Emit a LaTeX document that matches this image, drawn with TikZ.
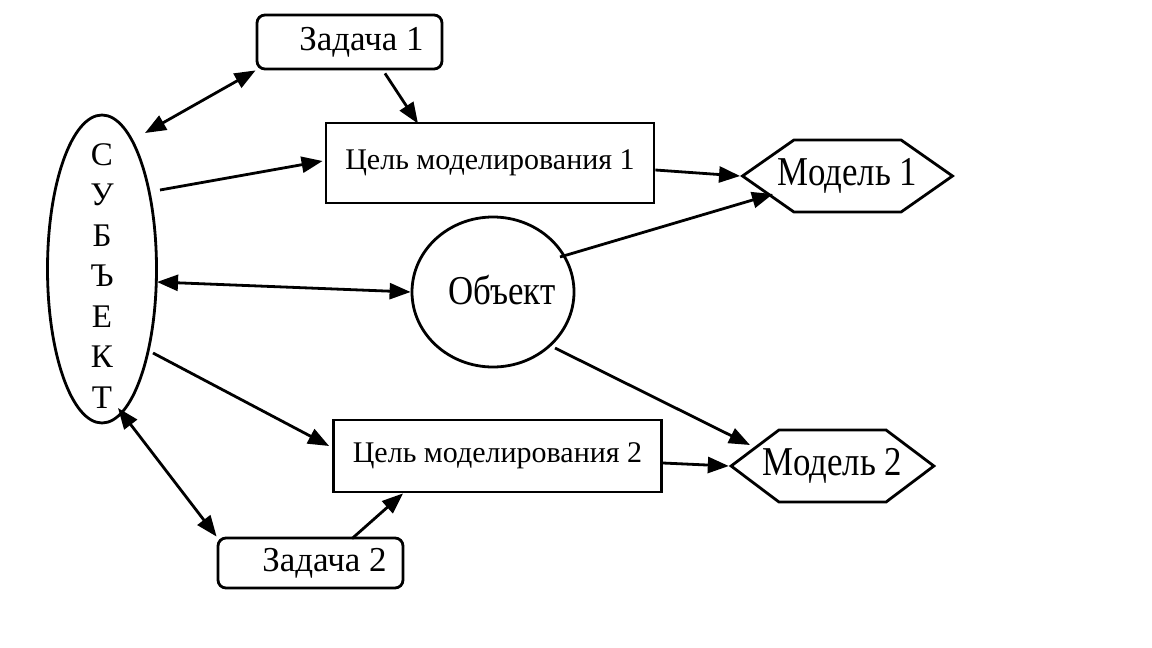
\documentclass[tikz,border=0pt]{standalone}
\usepackage{fontspec}
\setmainfont{Liberation Serif}
\newfontfamily\condserif[FakeStretch=0.85]{Liberation Serif}
\usetikzlibrary{arrows.meta,shapes.geometric,shapes.symbols,calc}
\tikzset{
  ln/.style={line width=2.8pt},
  arr/.style={ln,-{Triangle[length=21pt,width=16pt]}},
  darr/.style={ln,{Triangle[length=21pt,width=16pt]}-{Triangle[length=21pt,width=16pt]}},
  taskbox/.style={draw,ln,rounded corners=8pt,minimum width=185pt,inner sep=0pt,font=\fontsize{35}{42}\selectfont},
  goalbox/.style={draw,ln,minimum width=328pt,inner sep=0pt,font=\fontsize{30}{36}\selectfont},
  modelbox/.style={draw,ln,signal,signal to=west and east,minimum height=72pt,minimum width=10pt,inner xsep=-16pt,inner ysep=0pt,font=\condserif\fontsize{41}{48}\selectfont},
}
\begin{document}
\begin{tikzpicture}[x=1pt,y=-1pt]
\useasboundingbox (0,0) rectangle (1152,648);
\fill[white] (0,0) rectangle (1152,648);
% nodes
\node[draw,ln,ellipse,minimum width=109pt,minimum height=308pt,inner sep=0pt] (subj) at (102,269) {};
\node[align=center,font=\fontsize{33}{40.5}\selectfont,inner sep=0pt] (subjtxt) at (102,276) {С\\У\\Б\\Ъ\\Е\\К\\Т};
\node[taskbox,minimum height=54pt] (z1) at (349.5,42) {\hspace*{24pt}Задача 1};
\node[taskbox,minimum height=50pt] (z2) at (310.5,563) {\hspace*{28pt}Задача 2};
\node[goalbox,minimum height=80pt] (c1) at (490,163) {Цель моделирования 1};
\node[goalbox,minimum height=72pt] (c2) at (497.5,456) {Цель моделирования 2};
\node[draw,ln,ellipse,minimum width=162pt,minimum height=150pt,inner sep=0pt] (obj) at (493,292) {};
\node[font=\condserif\fontsize{41}{48}\selectfont,inner sep=0pt] (objtxt) at (502,290) {Объект};
\node[modelbox,signal pointer angle=70] (m1) at (847.5,176) {Модель 1};
\node[modelbox,signal pointer angle=74] (m2) at (832.5,466) {Модель 2};
% connectors
\draw[darr] ($(subj.center)+(43,-136)$) -- (z1.south west);
\draw[arr] ($(z1.south)+(35.5,3)$) -- ($(c1.north)+(-72,2)$);
\draw[arr] ($(subj.center)+(58,-79)$) -- ($(c1.west)+(-2,-2)$);
\draw[darr] ($(subj.center)+(55,13)$) -- (obj.west);
\draw[arr] ($(subj.center)+(51,84)$) -- ($(c2.west)+(-3,-10)$);
\draw[darr] ($(subj.center)+(16,139)$) -- (z2.north west);
\draw[arr] ($(z2.north)+(41.5,2)$) -- ($(c2.south)+(-94.5,0)$);
\draw[arr] ($(c1.east)+(0,7)$) -- (m1.west);
\draw[arr] ($(obj.center)+(67,-35)$) -- ($(m1.center)+(-74.5,18)$);
\draw[arr] ($(obj.center)+(62,56)$) -- ($(m2.center)+(-82.5,-21)$);
\draw[arr] ($(c2.east)+(0,7)$) -- (m2.west);
\end{tikzpicture}
\end{document}
